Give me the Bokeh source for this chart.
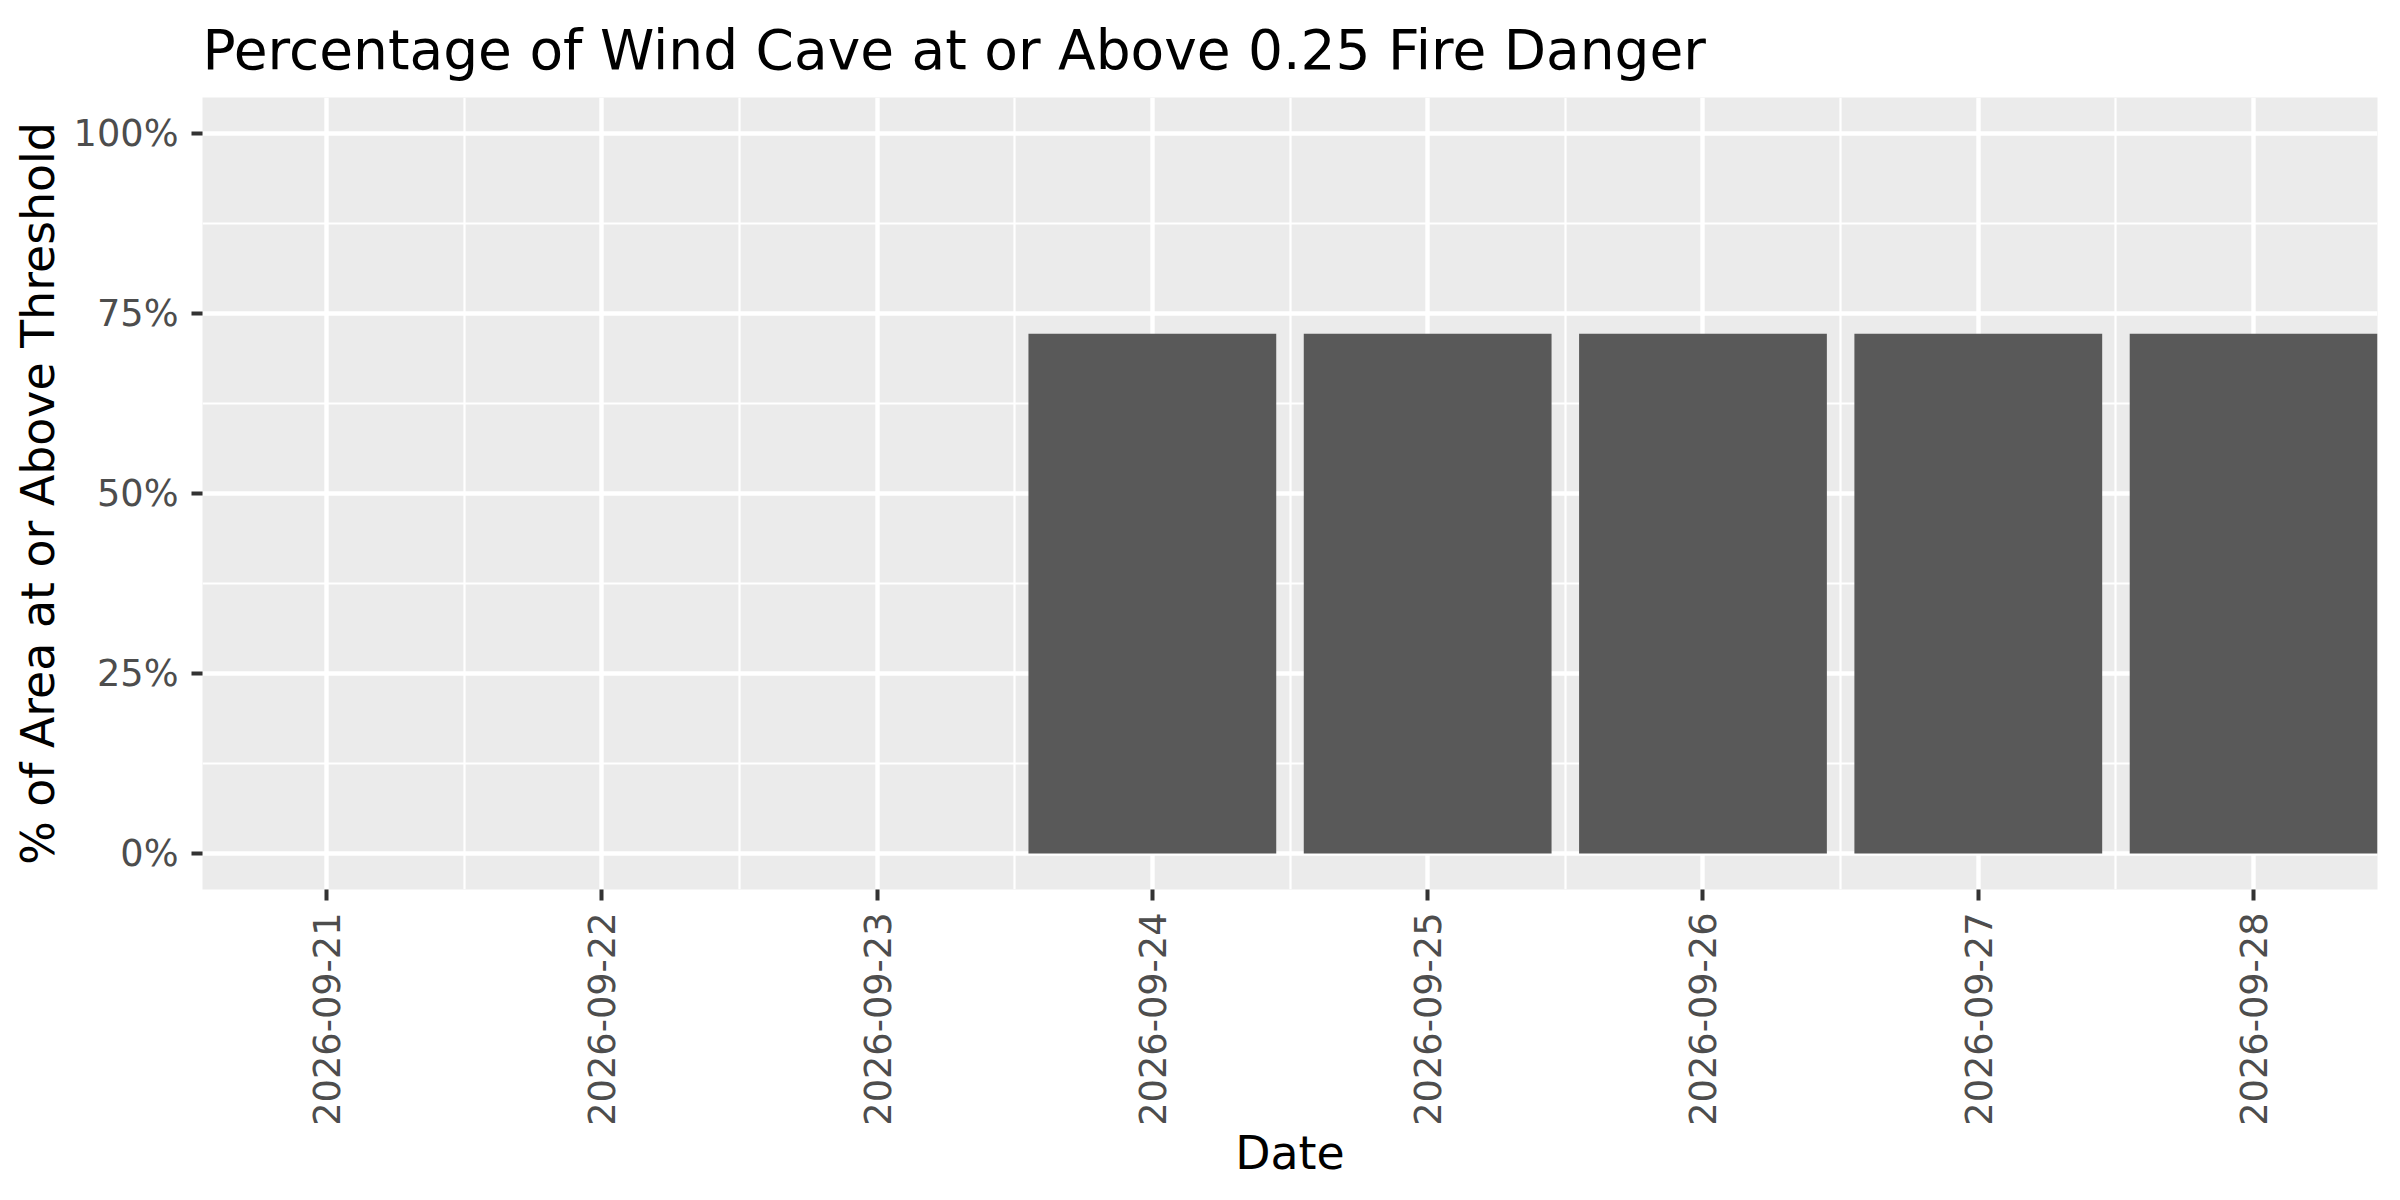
import math

from bokeh.plotting import figure
from bokeh.models import FixedTicker
from bokeh.embed import file_html
from bokeh.resources import INLINE

# data
dates = ["2026-09-21", "2026-09-22", "2026-09-23", "2026-09-24",
         "2026-09-25", "2026-09-26", "2026-09-27", "2026-09-28"]
pct_above = [0.0, 0.0, 0.0, 0.722, 0.722, 0.722, 0.722, 0.722]
y_ticks = [0.0, 0.25, 0.5, 0.75, 1.0]
y_tick_labels = ["0%", "25%", "50%", "75%", "100%"]

FONT = "DejaVu Sans"
xs = list(range(len(dates)))

p = figure(
    frame_width=2175, frame_height=792,
    min_border_left=202, min_border_right=7, min_border_top=97, min_border_bottom=295,
    x_range=(-0.45, len(dates) - 0.55), y_range=(-0.05, 1.05),
    output_backend="svg", toolbar_location=None,
    title="Percentage of Wind Cave at or Above 0.25 Fire Danger",
    x_axis_label="Date", y_axis_label="% of Area at or Above Threshold",
)

p.background_fill_color = "#EBEBEB"
p.border_fill_color = "white"
p.outline_line_color = None

p.title.text_font = FONT
p.title.text_font_size = "55px"
p.title.text_font_style = "normal"
p.title.text_color = "black"
p.title.align = "left"
p.title.standoff = 31

p.vbar(x=xs, top=pct_above, width=0.9, fill_color="#595959", line_color=None)

# axes: ggplot-like grey theme
p.xaxis.ticker = FixedTicker(ticks=xs, minor_ticks=[i + 0.5 for i in xs[:-1]])
p.xaxis.major_label_overrides = {i: d for i, d in zip(xs, dates)}
p.xaxis.major_label_orientation = math.pi / 2
p.yaxis.ticker = FixedTicker(ticks=y_ticks,
                             minor_ticks=[t + 0.125 for t in y_ticks[:-1]])
p.yaxis.major_label_overrides = {t: l for t, l in zip(y_ticks, y_tick_labels)}

for ax in (p.xaxis, p.yaxis):
    ax.axis_line_color = None
    ax.major_tick_line_color = "#333333"
    ax.major_tick_line_width = 4
    ax.major_tick_out = 11
    ax.major_tick_in = 0
    ax.minor_tick_line_color = None
    ax.major_label_text_font = FONT
    ax.major_label_text_font_size = "36.7px"
    ax.major_label_text_color = "#4D4D4D"
    ax.major_label_standoff = 12
    ax.axis_label_text_font = FONT
    ax.axis_label_text_font_size = "45.8px"
    ax.axis_label_text_font_style = "normal"
    ax.axis_label_text_color = "black"
p.yaxis.major_label_standoff = 13
p.xaxis.axis_label_standoff = -3
p.yaxis.axis_label_standoff = 6

for g in (p.xgrid, p.ygrid):
    g.grid_line_color = "white"
    g.grid_line_width = 4.4
    g.minor_grid_line_color = "white"
    g.minor_grid_line_width = 2.2

open("out.html", "w").write(file_html(p, INLINE))
